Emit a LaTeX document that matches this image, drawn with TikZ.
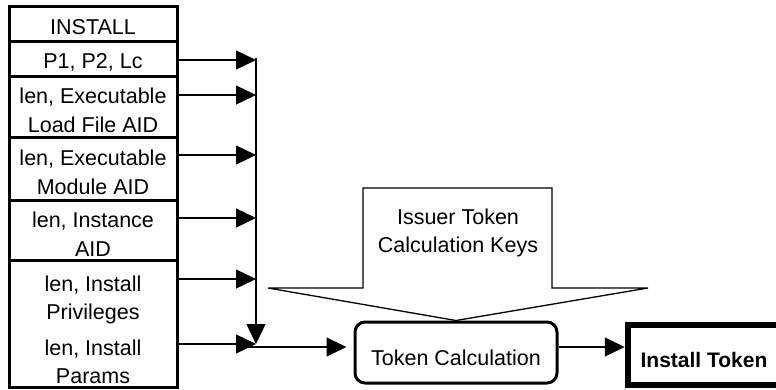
\documentclass[tikz,border=0pt]{standalone}
\usepackage{fontspec}
\setmainfont{Liberation Sans}
\usepackage{tikz}
\usetikzlibrary{arrows.meta, calc, positioning}

\begin{document}
\begin{tikzpicture}[x=1pt, y=-1pt,
    font=\fontsize{21.5}{28.5}\selectfont,
    field/.style={draw, line width=3pt, minimum width=168pt, inner sep=0pt},
    wire/.style={line width=1.3pt},
    arr/.style={wire, -{Triangle[length=20pt, width=19pt]}}]
          \useasboundingbox (0,0) rectangle (776,389);
          \clip (0,0) rectangle (776,389);
          % the fields of the INSTALL command
          \node[field, minimum height=35pt] (install) at (93,23.5) {};
          \node[field, minimum height=35pt] (p1) at (93,58.5) {};
          \node[field, minimum height=61pt] (loadfile) at (93,106.5) {};
          \node[field, minimum height=63pt] (module) at (93,168.5) {};
          \node[field, minimum height=60pt] (instance) at (93,230) {};
          \node[field, minimum height=127pt] (privparams) at (93,323.5) {};
          \node (installtext) at ([yshift=-4pt]install.center) {INSTALL};
          \node (p1text) at ([yshift=-3.5pt]p1.center) {P1, P2, Lc};
          \node[align=center] (loadtext) at ([yshift=-4pt]loadfile.center) {len, Executable\\Load File AID};
          \node[align=center] (moduletext) at ([yshift=-4pt]module.center) {len, Executable\\Module AID};
          \node[align=center] (instancetext) at ([yshift=-4pt]instance.center) {len, Instance\\AID};
          \node[align=center] (privtext) at (93,300) {len, Install\\Privileges};
          \node[align=center] (paramtext) at (93,362) {len, Install\\Params};
          % taps on the collecting line
          \coordinate (t1) at (256,60);
          \coordinate (t2) at (256,95);
          \coordinate (t3) at (256,155);
          \coordinate (t4) at (256,218);
          \coordinate (t5) at (256,279);
          \coordinate (t6) at (256,344);
          \coordinate (join) at (243,347);
          \draw[arr] (p1.east |- t1) -- (t1);
          \draw[arr] (loadfile.east |- t2) -- (t2);
          \draw[arr] (module.east |- t3) -- (t3);
          \draw[arr] (instance.east |- t4) -- (t4);
          \draw[arr] (privparams.east |- t5) -- (t5);
          \draw[arr] (privparams.east |- t6) -- (t6);
          \draw[arr] ($(t1)+(0,-2)$) -- (t6);
          % calculation and result
          \node[draw, line width=3pt, rounded corners=10pt, minimum width=202pt, minimum height=61pt] (calc) at (456,352.5) {};
          \node[draw, line width=6.5pt, minimum width=152pt, minimum height=60pt] (token) at (704,355) {};
          \node (calctext) at ([yshift=-5pt]calc.center) {Token Calculation};
          \node[font=\fontsize{21}{28}\selectfont\bfseries] (tokentext) at ([yshift=-5pt]token.center) {Install Token};
          \draw[arr, shorten >=7pt] (join) -- (calc.west |- join);
          \draw[arr] (calc.east |- join) -- (token.west |- join);
          % keys fed in from above
          \draw[wire] (363,188) -- (552,188) -- (552,288) -- (648,288) -- (calc.north) -- (268,288) -- (363,288) -- cycle;
          \node[align=center] (keys) at (458,233) {Issuer Token\\Calculation Keys};
        \end{tikzpicture}
\end{document}
